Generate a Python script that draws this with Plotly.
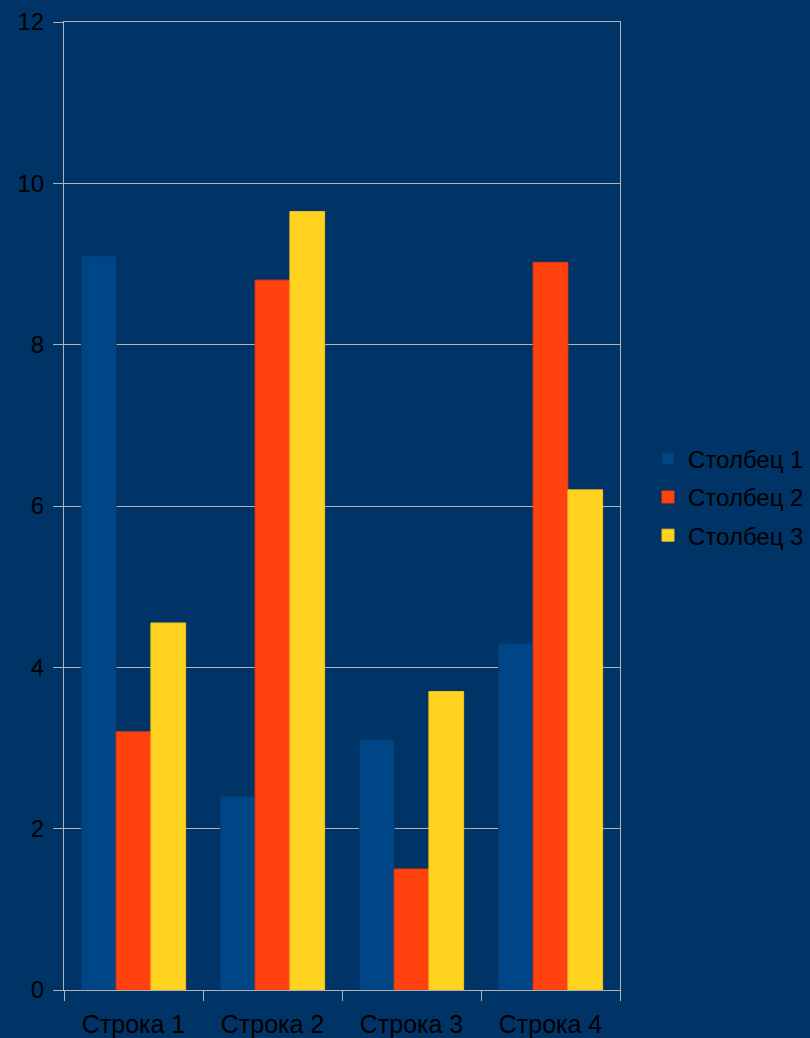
import plotly.graph_objects as go

# Row labels along the category axis
categories = ["Строка 1", "Строка 2", "Строка 3", "Строка 4"]

# Values of each column series
col1 = [9.1, 2.4, 3.1, 4.3]
col2 = [3.2, 8.8, 1.5, 9.02]
col3 = [4.55, 9.65, 3.7, 6.2]

series_names = ["Столбец 1", "Столбец 2", "Столбец 3"]
series_colors = ["#004586", "#ff420e", "#ffd320"]
edge_colors = ["#003a70", "#e83a0c", "#f0c41c"]

bg = "#003366"
grid = "#b3b3b3"
font_family = "Liberation Sans, Arial, sans-serif"

fig = go.Figure()
for name, vals, color, edge in zip(series_names, [col1, col2, col3], series_colors, edge_colors):
    fig.add_trace(go.Bar(
        x=categories, y=vals, name=name, legendgroup=name,
        marker=dict(color=color, line=dict(color=edge, width=1)),
    ))

fig.update_layout(
    width=810, height=1038,
    paper_bgcolor=bg, plot_bgcolor=bg,
    margin=dict(l=64, r=190, t=22, b=48, autoexpand=False),
    barmode="group", bargap=0.25, bargroupgap=0,
    font=dict(family=font_family, size=24, color="#000000"),
    showlegend=True,
    legend=dict(
        xref="container", yref="container",
        x=0.80, y=0.521, xanchor="left", yanchor="middle",
        bgcolor="rgba(0,0,0,0)", font=dict(size=24, color="#000000"),
        traceorder="grouped", tracegroupgap=4,
    ),
    xaxis=dict(
        showline=True, linecolor=grid, linewidth=1, mirror=True,
        ticks="outside", ticklen=10, tickcolor=grid, tickson="boundaries",
        showgrid=False, tickfont=dict(size=25), ticklabelstandoff=12,
        automargin=False,
    ),
    yaxis=dict(
        range=[0, 12], dtick=2, tick0=0,
        showline=True, linecolor=grid, linewidth=1, mirror=True,
        ticks="outside", ticklen=10, tickcolor=grid,
        showgrid=True, gridcolor=grid, gridwidth=1, zeroline=False,
        tickfont=dict(size=24), ticklabelstandoff=4,
        automargin=False,
    ),
)

fig.write_html("out.html")
